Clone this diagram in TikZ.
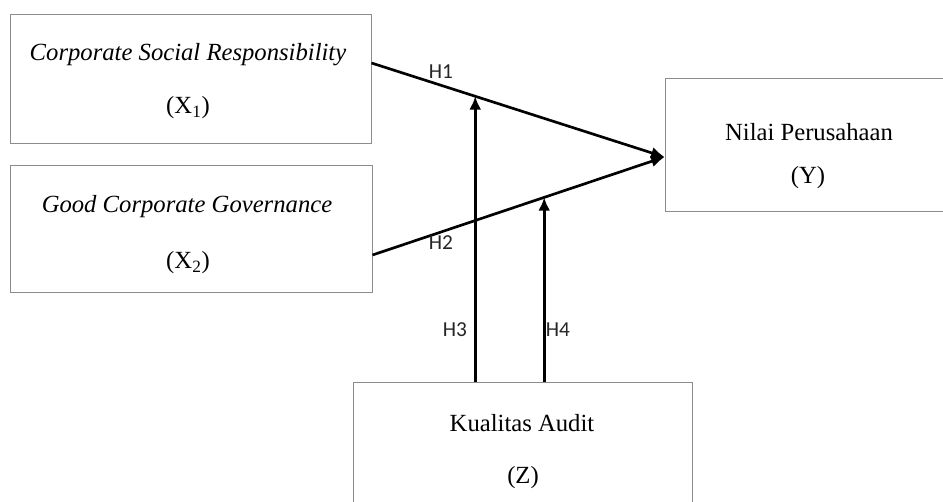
\documentclass[tikz,border=0pt]{standalone}
\usepackage{fontspec}
\setmainfont{Liberation Serif}
\newfontfamily\hfont{Carlito}
\usetikzlibrary{arrows.meta,calc}

\begin{document}
\begin{tikzpicture}[x=0.75pt, y=-0.75pt,
	box/.style n args={2}{draw=black!45, line width=0.75pt, inner sep=0pt,
		minimum width=#1*0.75pt, minimum height=#2*0.75pt},
	txt/.style={inner sep=0pt, font=\fontsize{18.5}{22}\selectfont},
	hlab/.style={inner sep=0pt, text=black!85, font=\hfont\fontsize{16}{18}\selectfont},
	arr/.style={-{Latex[length=10pt,width=9pt]}, line width=2pt}]
	%Bildbereich
	\useasboundingbox (0,0) rectangle (943,502);
	\clip (0,0) rectangle (943,502);
	% Kotak variabel
	\node[box={361}{129}] (x1) at (190.5,79.5) {};
	\node[box={362}{127}] (x2) at (191,229.5) {};
	\node[box={310}{133}] (y) at (820,145.5) {};
	\node[box={339}{137}] (z) at (522.5,451.5) {};
	% Beschriftung
	\node[txt] (x1a) at (188,55) {\textit{Corporate Social Responsibility}};
	\node[txt] (x1b) at (188,108) {(X\textsubscript{1})};
	\node[txt] (x2a) at (187,207) {\textit{Good Corporate Governance}};
	\node[txt] (x2b) at (188,263) {(X\textsubscript{2})};
	\node[txt] (ya) at (809,132) {Nilai Perusahaan};
	\node[txt] (yb) at (808,178) {(Y)};
	\node[txt] (za) at (522,423) {Kualitas Audit};
	\node[txt] (zb) at (523,478) {(Z)};
	% Pfeile
	\coordinate (x1out) at (x1.east |- 0,63);
	\coordinate (x2out) at (x2.east |- 0,255);
	\coordinate (ytip) at (y.west |- 0,157);
	\coordinate (m1) at ($(x1out)!0.354!(ytip)$);
	\coordinate (m2) at ($(x2out)!0.588!(ytip)$);
	\draw[arr] (x1out) -- (ytip);
	\draw[arr] (x2out) -- (ytip);
	\draw[arr] (z.north -| m1) -- (m1);
	\draw[arr] (z.north -| m2) -- (m2);
	% Hipotesis
	\node[hlab] (h1) at (441,72) {H1};
	\node[hlab] (h2) at (441,243) {H2};
	\node[hlab] (h3) at (455,330) {H3};
	\node[hlab] (h4) at (558,330) {H4};
\end{tikzpicture}
\end{document}
